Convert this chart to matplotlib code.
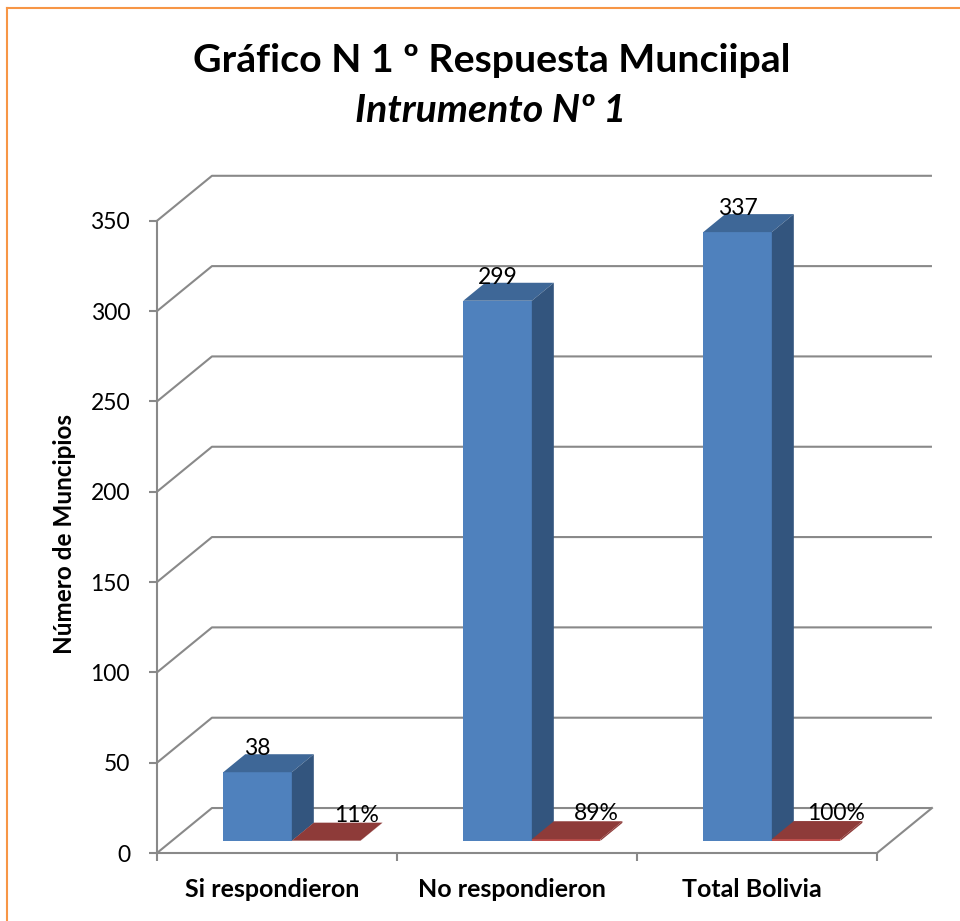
import matplotlib
matplotlib.use('Agg')
import matplotlib.pyplot as plt
from matplotlib.patches import Polygon
from matplotlib.lines import Line2D

# datos del gráfico
categorias = ['Si respondieron', 'No respondieron', 'Total Bolivia']
municipios = [38, 299, 337]
porcentajes = [0.11, 0.89, 1.00]
etiquetas_pct = ['11%', '89%', '100%']
yticks = [0, 50, 100, 150, 200, 250, 300, 350]

plt.rcParams['font.family'] = ['Lato', 'DejaVu Sans']

# geometria del efecto 3D (en unidades de datos)
DX, DY = 0.229, 24.9        # profundidad de la pared del fondo
F0 = 0.27                   # posicion de la fila de barras
FD = 0.40                   # grosor de las barras
ANCHO = 1 / 3.5             # ancho de barra (gap 150%)

azul, azul_top, azul_side = '#4F81BD', '#3E6797', '#33557E'
rojo, rojo_top = '#C0504D', '#8E3B39'
gris = '#898989'

fig = plt.figure(figsize=(9.6, 9.21), dpi=100)
ax = fig.add_axes([157 / 960, 68 / 921, 780 / 960, 681 / 921])
ax.set_xlim(0, 3.25)
ax.set_ylim(0, 377)

# paredes y lineas de division
for v in yticks:
    ax.plot([0, DX, 3 + DX], [v, v + DY, v + DY], color=gris, lw=1.5,
            clip_on=False, zorder=1, solid_capstyle='butt')
ax.plot([3, 3 + DX], [0, DY], color=gris, lw=1.5, clip_on=False, zorder=1)


def barra(x0, valor, c_front, c_top, c_side):
    base = F0 * DY
    ax.bar(x0, valor, width=ANCHO, bottom=base, align='edge',
           color=c_front, zorder=3, linewidth=0)
    top = base + valor
    ax.add_patch(Polygon([(x0, top), (x0 + ANCHO, top),
                          (x0 + ANCHO + FD * DX, top + FD * DY),
                          (x0 + FD * DX, top + FD * DY)],
                         closed=True, color=c_top, zorder=3, lw=0))
    ax.add_patch(Polygon([(x0 + ANCHO, base), (x0 + ANCHO, top),
                          (x0 + ANCHO + FD * DX, top + FD * DY),
                          (x0 + ANCHO + FD * DX, base + FD * DY)],
                         closed=True, color=c_side, zorder=3, lw=0))
    return top + FD * DY


for i in range(len(categorias)):
    xb = i + 0.5 - ANCHO + F0 * DX
    xr = i + 0.5 + F0 * DX
    t = barra(xb, municipios[i], azul, azul_top, azul_side)
    ax.text(xb + ANCHO / 2, t - 0.5, str(municipios[i]), ha='center',
            va='baseline', fontsize=16.5, zorder=5)
    t2 = barra(xr, porcentajes[i], rojo, rojo_top, rojo_top)
    ax.text(xr + ANCHO / 2 + 0.125, t2 + 0.5, etiquetas_pct[i], ha='center',
            va='baseline', fontsize=16.5, zorder=5)
    # nombre de la categoria
    ax.text(i + 0.5 - 0.021, -24.4, categorias[i], ha='center',
            va='baseline', fontsize=18, fontweight='bold')

# ejes
for s in ['top', 'right']:
    ax.spines[s].set_visible(False)
ax.spines['left'].set_bounds(0, 350)
ax.spines['bottom'].set_bounds(0, 3)
for s in ['left', 'bottom']:
    ax.spines[s].set_color(gris)
    ax.spines[s].set_linewidth(1.5)
    ax.spines[s].set_zorder(2)

ax.set_yticks(yticks)
ax.tick_params(axis='y', length=5.8, width=1.5, color=gris, labelsize=16.5,
               pad=13.6)
ax.set_xticks([0, 1, 2, 3])
ax.set_xticklabels([])
ax.tick_params(axis='x', which='major', length=6, width=1.5, color=gris)

fig.text(65 / 960, 1 - 534 / 921, 'Número de Muncipios', rotation=90,
         ha='center', va='center', fontsize=17.5, fontweight='bold')

fig.text(492 / 960, 1 - 72 / 921, 'Gráfico N 1 º Respuesta Munciipal',
         ha='center', va='baseline', fontsize=28.3, fontweight='bold')
fig.text(491 / 960, 1 - 122 / 921, 'Intrumento Nº 1', ha='center',
         va='baseline', fontsize=28.3, fontweight='bold', style='italic')

# borde naranja del area del grafico
fig.add_artist(Line2D([7 / 960, 1], [1 - 8 / 921, 1 - 8 / 921],
                      transform=fig.transFigure, color='#F79646', lw=1.5))
fig.add_artist(Line2D([7 / 960, 7 / 960], [0, 1 - 8 / 921],
                      transform=fig.transFigure, color='#F79646', lw=1.5))

fig.savefig('out.png', dpi=100, facecolor='white')
